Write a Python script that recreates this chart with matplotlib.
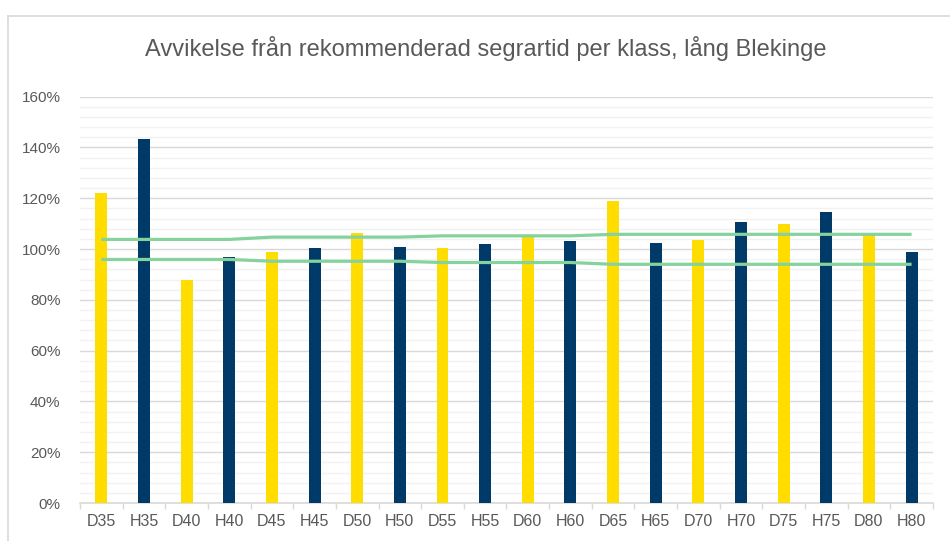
"""
Avvikelse från rekommenderad segrartid per klass, lång Blekinge
"""

import matplotlib.pyplot as plt
from matplotlib.lines import Line2D
from matplotlib.ticker import MultipleLocator, PercentFormatter
import numpy as np

plt.rcParams['font.family'] = ['Liberation Sans', 'DejaVu Sans']

# data
classes = ['D35', 'H35', 'D40', 'H40', 'D45', 'H45', 'D50', 'H50', 'D55', 'H55',
           'D60', 'H60', 'D65', 'H65', 'D70', 'H70', 'D75', 'H75', 'D80', 'H80']
deviation = [122, 143.5, 88, 97, 99, 100.3, 106.5, 101, 100.3, 101.8,
             104.8, 103, 118.8, 102.2, 103.5, 110.5, 109.8, 114.5, 105.5, 98.8]
upper_limit = [103.8, 103.8, 103.8, 103.8, 104.7, 104.7, 104.7, 104.7, 105.2, 105.2,
               105.2, 105.2, 105.8, 105.8, 105.8, 105.8, 105.8, 105.8, 105.8, 105.8]
lower_limit = [95.9, 95.9, 95.9, 95.9, 95.2, 95.2, 95.2, 95.2, 94.7, 94.7,
               94.7, 94.7, 94.0, 94.0, 94.0, 94.0, 94.0, 94.0, 94.0, 94.0]

YELLOW = '#FFDD00'
NAVY = '#003A68'
GREEN = '#85D29C'
TEXT = '#595959'

fig = plt.figure(figsize=(9.5, 5.41), dpi=100)
ax = fig.add_axes([0.0842, 0.0702, 0.8978, 0.7511])

x = np.arange(len(classes))
colors = [YELLOW if c.startswith('D') else NAVY for c in classes]
ax.bar(x, deviation, width=0.28, color=colors, zorder=3)

ax.plot(x, upper_limit, color=GREEN, linewidth=2.3, zorder=4, solid_capstyle='butt')
ax.plot(x, lower_limit, color=GREEN, linewidth=2.3, zorder=4, solid_capstyle='butt')

ax.set_xlim(-0.5, len(classes) - 0.5)
ax.set_ylim(0, 160)
ax.yaxis.set_major_locator(MultipleLocator(20))
ax.yaxis.set_minor_locator(MultipleLocator(4))
ax.yaxis.set_major_formatter(PercentFormatter(decimals=0))
ax.grid(True, which='major', axis='y', color='#D9D9D9', linewidth=1.0, zorder=0)
ax.grid(True, which='minor', axis='y', color='#F2F2F2', linewidth=1.0, zorder=0)

ax.set_xticks(x)
ax.set_xticklabels(classes)
ax.set_xticks(np.arange(len(classes) + 1) - 0.5, minor=True)
ax.tick_params(axis='x', which='major', length=0, pad=8, labelsize=11.5, labelcolor=TEXT)
ax.tick_params(axis='x', which='minor', length=4, color='#D9D9D9', width=1)
ax.tick_params(axis='y', which='both', length=0, pad=14, labelsize=11, labelcolor=TEXT)

for side in ['top', 'right', 'left']:
    ax.spines[side].set_visible(False)
ax.spines['bottom'].set_color('#D9D9D9')
ax.spines['bottom'].set_linewidth(1.2)

fig.text(0.511, 0.911, 'Avvikelse från rekommenderad segrartid per klass, lång Blekinge',
         ha='center', va='center', fontsize=17, color=TEXT)

# chart frame
fig.add_artist(Line2D([7.5 / 950, 7.5 / 950], [0, 1 - 15.5 / 541],
                      transform=fig.transFigure, color='#D9D9D9', linewidth=1.2))
fig.add_artist(Line2D([7.5 / 950, 1], [1 - 15.5 / 541, 1 - 15.5 / 541],
                      transform=fig.transFigure, color='#D9D9D9', linewidth=1.2))

fig.savefig('out.png', dpi=100)
